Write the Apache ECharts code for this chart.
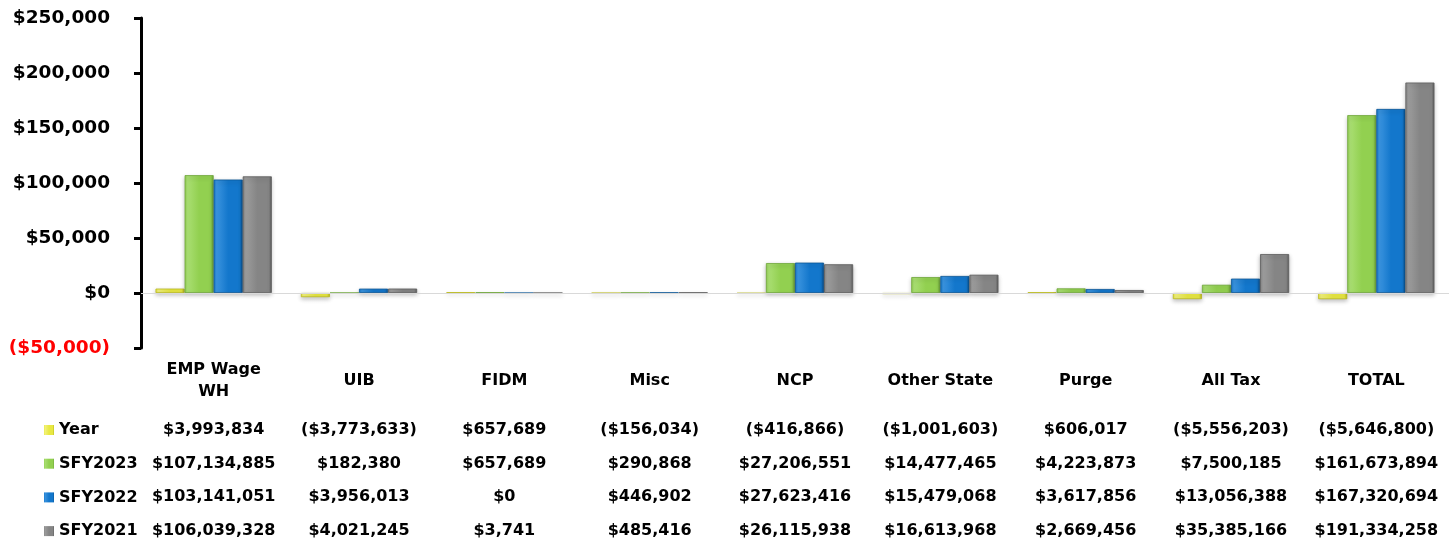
<!DOCTYPE html>
<html>
<head>
<meta charset="utf-8">
<script src="https://cdn.jsdelivr.net/npm/echarts@6/dist/echarts.min.js"></script>
<style>
  html, body { margin: 0; padding: 0; background: #ffffff; }
  #chart { width: 1449px; height: 547px; }
</style>
</head>
<body>
<div id="chart"></div>
<script>
// ---- data (raw dollars) ----
const categories = ['EMP Wage\nWH', 'UIB', 'FIDM', 'Misc', 'NCP', 'Other State', 'Purge', 'All Tax', 'TOTAL'];
const seriesNames = ['Year', 'SFY2023', 'SFY2022', 'SFY2021'];
const yearValues    = [3993834, -3773633, 657689, -156034, -416866, -1001603, 606017, -5556203, -5646800];
const sfy2023Values = [107134885, 182380, 657689, 290868, 27206551, 14477465, 4223873, 7500185, 161673894];
const sfy2022Values = [103141051, 3956013, 0, 446902, 27623416, 15479068, 3617856, 13056388, 167320694];
const sfy2021Values = [106039328, 4021245, 3741, 485416, 26115938, 16613968, 2669456, 35385166, 191334258];
const yTickMin = -50000000, yTickMax = 250000000, yTickStep = 50000000;

const rows = [yearValues, sfy2023Values, sfy2022Values, sfy2021Values];

function money(v) {
  const s = '$' + Math.abs(Math.round(v)).toLocaleString('en-US');
  return v < 0 ? '(' + s + ')' : s;
}

const FONT = 'DejaVu Sans';
const palette = [
  ['#b9b91c', '#e8e842', '#f2f27a'],
  ['#6ea63a', '#92d050', '#a9de72'],
  ['#0a5596', '#1377cc', '#3a93de'],
  ['#5c5c5c', '#858585', '#9c9c9c']
];
function grad(p) {
  return new echarts.graphic.LinearGradient(0, 0, 1, 0, [
    { offset: 0, color: p[1] },
    { offset: 0.1, color: p[2] },
    { offset: 0.5, color: p[1] },
    { offset: 0.9, color: p[1] },
    { offset: 1, color: p[0] }
  ]);
}

const rowY = [430, 464, 497, 531];
const gridBottomY = 348;

const xAxes = [{
  type: 'category',
  data: categories,
  gridIndex: 0,
  position: 'bottom',
  axisLine: { show: false, onZero: false },
  axisTick: { show: false },
  axisLabel: {
    interval: 0, margin: 33, verticalAlign: 'middle',
    fontFamily: FONT, fontWeight: 'bold', fontSize: 16, lineHeight: 22, color: '#000'
  }
}];
rows.forEach((r, i) => {
  xAxes.push({
    type: 'category',
    data: categories,
    gridIndex: 0,
    position: 'bottom',
    offset: rowY[i] - gridBottomY,
    axisLine: { show: false, onZero: false },
    axisTick: { show: false },
    axisLabel: {
      interval: 0, margin: 0, verticalAlign: 'middle',
      fontFamily: FONT, fontWeight: 'bold', fontSize: 16, color: '#000',
      formatter: (val, idx) => money(r[idx])
    }
  });
});

const series = rows.map((r, i) => ({
  name: seriesNames[i],
  type: 'bar',
  xAxisIndex: 0,
  data: r,
  barGap: '0%',
  barCategoryGap: '20%',
  itemStyle: {
    color: grad(palette[i]),
    borderColor: palette[i][0],
    borderWidth: 0.8,
    shadowColor: 'rgba(0,0,0,0.25)',
    shadowBlur: 4,
    shadowOffsetY: 2
  },
  markLine: i === 0 ? {
    silent: true, symbol: 'none', label: { show: false },
    lineStyle: { color: '#d9d9d9', width: 1, type: 'solid' },
    data: [{ yAxis: 0 }]
  } : undefined
}));

const chart = echarts.init(document.getElementById('chart'), null, { renderer: 'canvas' });
chart.setOption({
  animation: false,
  backgroundColor: '#ffffff',
  grid: { left: 141, top: 18, width: 1313, height: 330, containLabel: false },
  legend: {
    orient: 'vertical',
    left: 44, top: 420, height: 127,
    padding: 0,
    itemWidth: 10, itemHeight: 10, itemGap: 13.7,
    icon: 'rect',
    itemStyle: { borderWidth: 0, shadowBlur: 0, shadowOffsetY: 0, shadowColor: 'transparent' },
    textStyle: { fontFamily: FONT, fontWeight: 'bold', fontSize: 16, lineHeight: 20, color: '#000' },
    data: seriesNames
  },
  xAxis: xAxes,
  yAxis: {
    type: 'value',
    min: yTickMin, max: yTickMax, interval: yTickStep,
    axisLine: { show: true, lineStyle: { color: '#000', width: 3 } },
    axisTick: { show: true, length: 7, lineStyle: { color: '#000', width: 3 } },
    splitLine: { show: false },
    axisLabel: {
      margin: 31,
      fontFamily: FONT, fontWeight: 'bold', fontSize: 18.5,
      color: (v) => (Number(v) < 0 ? '#ff0000' : '#000000'),
      formatter: (v) => money(v / 1000)
    }
  },
  series: series
});
</script>
</body>
</html>
